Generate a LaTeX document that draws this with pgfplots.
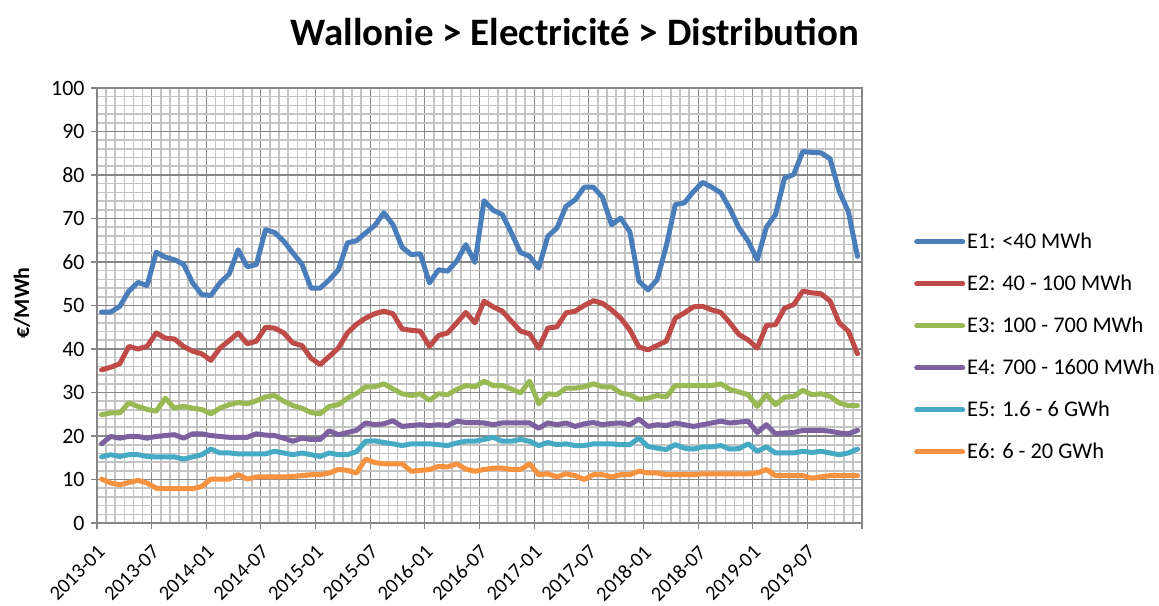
\documentclass[border=0pt]{standalone}
\usepackage{fontspec}
\setmainfont{Carlito}
\usepackage{pgfplots}
\usepackage{pgfplotstable}
\pgfplotsset{compat=1.18}

\definecolor{e1}{HTML}{4A7EBB}
\definecolor{e2}{HTML}{BE4B48}
\definecolor{e3}{HTML}{98B954}
\definecolor{e4}{HTML}{7D60A0}
\definecolor{e5}{HTML}{46AAC5}
\definecolor{e6}{HTML}{F69240}
\definecolor{majgrid}{HTML}{878787}
\definecolor{mingrid}{HTML}{C4C4C4}

% monthly values, 2013-01 ... 2019-12 (x = month index + 0.5)
\pgfplotstableread{
x    e1    e2    e3    e4    e5    e6
0.5  48.5  35.2  24.9  18.2  15.2  10.1
1.5  48.5  35.8  25.3  19.9  15.7  9.2
2.5  49.8  36.6  25.3  19.5  15.3  8.8
3.5  53.3  40.6  27.6  19.9  15.7  9.3
4.5  55.3  40.0  26.8  19.9  15.7  9.8
5.5  54.6  40.6  26.1  19.5  15.3  9.2
6.5  62.2  43.7  25.7  19.9  15.2  8.0
7.5  61.1  42.5  28.7  20.1  15.2  7.9
8.5  60.5  42.3  26.4  20.3  15.2  7.9
9.5  59.5  40.6  26.8  19.5  14.7  7.9
10.5 55.2  39.5  26.4  20.5  15.2  7.9
11.5 52.5  38.9  26.1  20.5  15.7  8.4
12.5 52.3  37.4  25.1  20.1  17.0  10.1
13.5 55.2  40.2  26.4  19.9  16.1  10.1
14.5 57.2  41.9  27.2  19.7  16.1  10.1
15.5 62.8  43.7  27.7  19.7  15.9  11.1
16.5 58.9  41.2  27.4  19.7  15.9  10.1
17.5 59.4  41.8  28.1  20.5  15.9  10.6
18.5 67.4  45.0  29.0  20.2  15.9  10.6
19.5 66.8  44.8  29.3  20.1  16.5  10.6
20.5 64.8  43.7  28.0  19.5  16.1  10.6
21.5 62.1  41.4  27.0  18.8  15.7  10.7
22.5 59.5  40.8  26.4  19.5  16.1  10.9
23.5 54.0  37.9  25.4  19.2  15.7  11.1
24.5 54.0  36.4  25.1  19.2  15.3  11.1
25.5 55.9  38.3  26.8  21.2  16.1  11.5
26.5 58.2  40.2  27.2  20.3  15.7  12.3
27.5 64.4  43.7  28.7  20.8  15.7  12.1
28.5 64.9  45.7  29.8  21.3  16.4  11.5
29.5 66.7  47.1  31.3  23.0  18.8  14.7
30.5 68.4  48.1  31.3  22.6  18.9  13.9
31.5 71.3  48.7  32.0  22.8  18.5  13.6
32.5 68.6  48.1  30.8  23.5  18.2  13.6
33.5 63.4  44.6  29.7  22.2  17.8  13.6
34.5 61.7  44.3  29.3  22.4  18.2  11.9
35.5 61.9  44.1  29.7  22.6  18.2  12.1
36.5 55.2  40.6  28.2  22.4  18.2  12.3
37.5 58.2  43.1  29.7  22.6  18.0  13.0
38.5 57.9  43.7  29.5  22.4  17.8  12.9
39.5 60.2  46.0  30.7  23.4  18.4  13.6
40.5 64.0  48.4  31.6  23.1  18.8  12.4
41.5 59.9  46.0  31.3  23.1  18.8  11.9
42.5 74.1  51.0  32.6  23.0  19.2  12.3
43.5 71.9  49.7  31.6  22.6  19.7  12.6
44.5 70.9  48.7  31.6  23.0  18.8  12.6
45.5 66.7  46.4  30.8  23.0  18.8  12.3
46.5 62.2  44.1  29.9  23.0  19.2  12.3
47.5 61.3  43.5  32.6  23.0  18.8  13.6
48.5 58.6  40.2  27.4  21.8  17.8  11.1
49.5 65.9  44.8  29.7  23.0  18.5  11.3
50.5 67.8  45.1  29.5  22.6  18.0  10.6
51.5 72.8  48.3  31.0  23.0  18.2  11.3
52.5 74.3  48.7  31.0  22.2  17.8  10.9
53.5 77.2  50.0  31.3  22.8  17.8  10.0
54.5 77.2  51.1  32.0  23.1  18.2  11.1
55.5 74.9  50.5  31.3  22.6  18.2  11.1
56.5 68.6  49.0  31.3  22.9  18.2  10.6
57.5 70.1  47.1  29.9  23.0  18.0  11.1
58.5 67.0  44.4  29.5  22.6  18.0  11.1
59.5 55.6  40.5  28.4  23.9  19.5  11.9
60.5 53.6  39.8  28.7  22.2  17.6  11.5
61.5 55.9  40.8  29.3  22.6  17.2  11.5
62.5 63.6  41.8  29.0  22.4  16.9  11.1
63.5 73.2  47.1  31.6  23.0  18.0  11.1
64.5 73.6  48.3  31.6  22.6  17.2  11.1
65.5 76.2  49.7  31.6  22.2  17.0  11.1
66.5 78.3  49.8  31.6  22.6  17.5  11.3
67.5 77.2  49.0  31.6  23.0  17.5  11.3
68.5 75.9  48.4  32.0  23.4  17.8  11.3
69.5 72.2  46.0  30.7  23.0  17.0  11.3
70.5 67.8  43.3  30.1  23.2  17.1  11.3
71.5 64.8  42.1  29.5  23.4  18.2  11.3
72.5 60.5  40.2  26.8  20.8  16.5  11.5
73.5 68.0  45.4  29.5  22.6  17.5  12.3
74.5 70.9  45.6  27.2  20.5  16.1  10.9
75.5 79.3  49.4  28.9  20.7  16.1  10.9
76.5 80.1  50.2  29.1  20.8  16.1  10.9
77.5 85.4  53.3  30.5  21.3  16.5  10.9
78.5 85.2  52.9  29.5  21.3  16.2  10.3
79.5 85.1  52.7  29.7  21.3  16.5  10.6
80.5 83.7  51.0  29.1  21.1  16.1  10.9
81.5 76.2  46.0  27.6  20.7  15.7  10.9
82.5 71.6  44.1  27.0  20.5  16.1  10.9
83.5 61.3  38.9  27.0  21.3  17.0  10.9
}\prices

\begin{document}
\begin{tikzpicture}
\useasboundingbox (-97bp,-83bp) rectangle (1062bp,523bp);
\begin{axis}[
  at={(0,0)}, anchor=south west,
  scale only axis, width=765bp, height=435bp,
  xmin=0, xmax=84, ymin=0, ymax=100,
  xtick={0,6,...,84},
  xticklabels={2013-01,2013-07,2014-01,2014-07,2015-01,2015-07,2016-01,2016-07,2017-01,2017-07,2018-01,2018-07,2019-01,2019-07,},
  ytick={0,10,...,100},
  minor x tick num=5, minor y tick num=4,
  grid=both,
  major grid style={draw=majgrid, line width=1.1bp},
  minor grid style={draw=mingrid, line width=1.6bp},
  axis line style={draw=majgrid, line width=1.1bp},
  tick pos=left, tick align=outside,
  major tick length=6bp, minor tick length=0pt,
  tick style={draw=majgrid, line width=1.1bp},
  /pgf/number format/assume math mode=true,
  yticklabel style={font=\fontsize{22}{26}\selectfont, xshift=-3bp},
  xticklabel style={font=\fontsize{20.5}{25}\selectfont, rotate=45, anchor=east, xshift=-7.5bp, yshift=-17bp},
  every axis plot/.append style={line width=5bp, line join=round, line cap=round, mark=none},
  legend style={at={(1.068,0.405)}, anchor=west, draw=none, fill=none,
    font=\fontsize{22.5}{27}\selectfont, row sep=21bp, inner sep=0pt,
    cells={anchor=west}},
  legend image code/.code={\draw[#1, line cap=round] (0bp,0bp) -- (46bp,0bp);},
]
\addplot[e1] table[x=x, y=e1] {\prices};
\addplot[e2] table[x=x, y=e2] {\prices};
\addplot[e3] table[x=x, y=e3] {\prices};
\addplot[e4] table[x=x, y=e4] {\prices};
\addplot[e5] table[x=x, y=e5] {\prices};
\addplot[e6] table[x=x, y=e6] {\prices};
\legend{E1: <40 MWh, E2: 40 - 100 MWh, E3: 100 - 700 MWh, E4: 700 - 1600 MWh, E5: 1.6 - 6 GWh, E6: 6 - 20 GWh}
\end{axis}
\node[font=\bfseries\fontsize{39}{46}\selectfont, anchor=base] at (478bp,477bp) {Wallonie > Electricité > Distribution};
\node[font=\bfseries\fontsize{22}{26}\selectfont, rotate=90] at (-75bp,220bp) {€/MWh};
\end{tikzpicture}
\end{document}
